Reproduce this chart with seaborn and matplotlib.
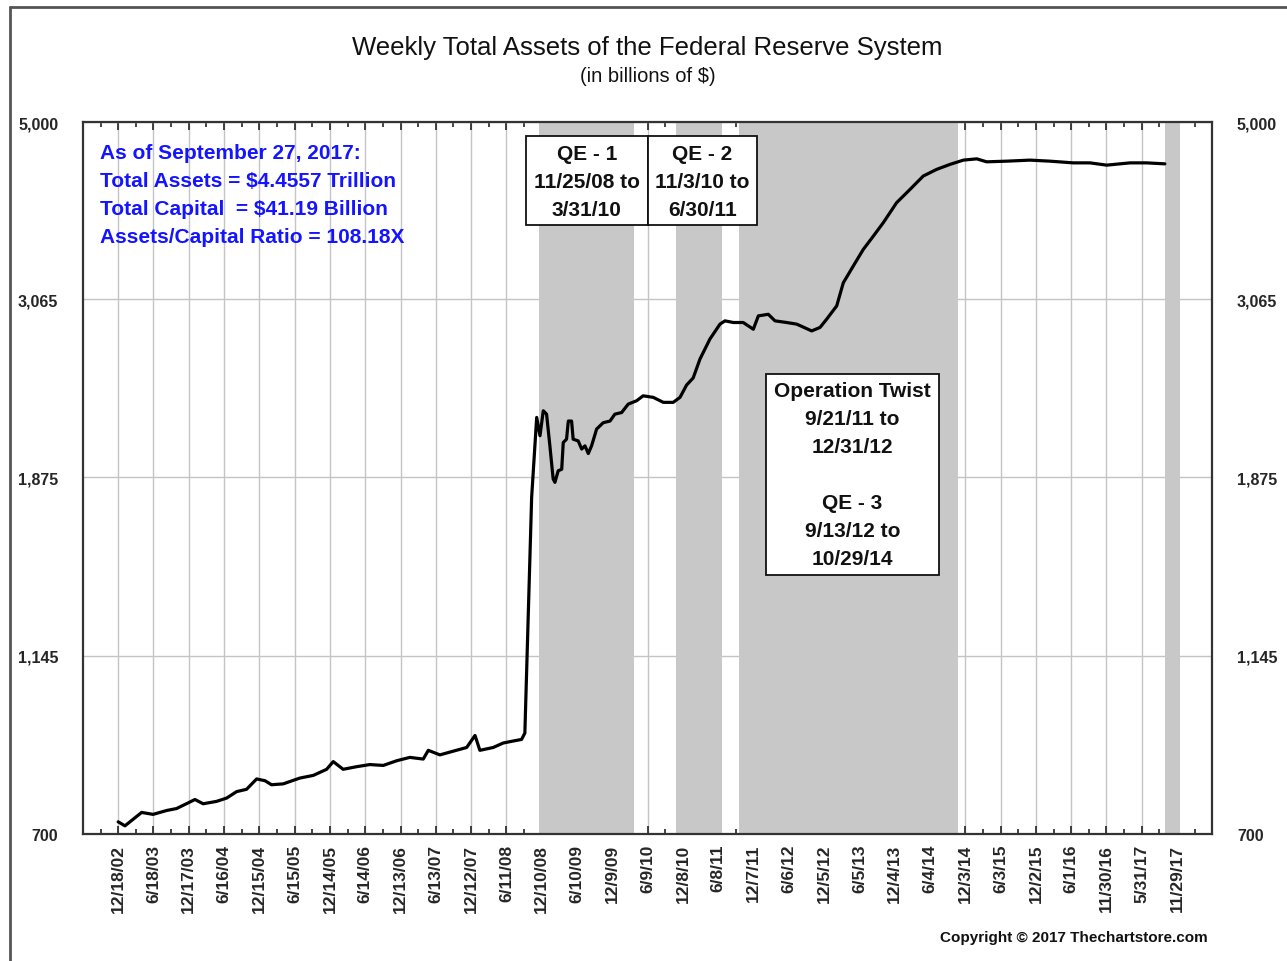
import numpy as np
import pandas as pd
import seaborn as sns
import matplotlib.pyplot as plt
import matplotlib.dates as mdates
from matplotlib.patches import Rectangle
from matplotlib.lines import Line2D
from matplotlib.ticker import FixedLocator, NullLocator

# weekly total assets (billions $)
dates = ["2002-12-18", "2003-01-22", "2003-04-18", "2003-06-16", "2003-08-25", "2003-10-15",
         "2004-01-18", "2004-02-29", "2004-05-08", "2004-06-29", "2004-08-20", "2004-10-10",
         "2004-12-01", "2005-01-13", "2005-02-16", "2005-04-17", "2005-07-12", "2005-09-19",
         "2005-11-27", "2005-12-31", "2006-02-20", "2006-04-30", "2006-07-08", "2006-09-15",
         "2006-11-23", "2007-01-30", "2007-04-09", "2007-05-05", "2007-07-04", "2007-09-11",
         "2007-11-19", "2008-01-01", "2008-01-26", "2008-04-04", "2008-05-25", "2008-07-16",
         "2008-08-28", "2008-09-14", "2008-10-19", "2008-11-14", "2008-12-01", "2008-12-18",
         "2009-01-04", "2009-01-21", "2009-02-07", "2009-02-16", "2009-03-05", "2009-03-23",
         "2009-03-31", "2009-04-17", "2009-04-26", "2009-05-13", "2009-05-21", "2009-06-16",
         "2009-07-04", "2009-07-21", "2009-08-07", "2009-08-24", "2009-09-19", "2009-10-23",
         "2009-11-27", "2009-12-22", "2010-01-26", "2010-03-01", "2010-04-13", "2010-05-17",
         "2010-07-08", "2010-08-29", "2010-10-19", "2010-11-23", "2010-12-27", "2011-01-30",
         "2011-03-06", "2011-04-26", "2011-06-17", "2011-07-13", "2011-08-25", "2011-10-15",
         "2011-12-06", "2012-01-01", "2012-02-21", "2012-03-27", "2012-05-26", "2012-07-17",
         "2012-10-02", "2012-11-14", "2012-12-18", "2013-02-08", "2013-03-14", "2013-05-04",
         "2013-06-25", "2013-08-16", "2013-10-06", "2013-12-14", "2014-02-21", "2014-04-30",
         "2014-07-08", "2014-09-15", "2014-11-23", "2015-01-31", "2015-03-23", "2015-07-04",
         "2015-11-02", "2016-02-13", "2016-06-12", "2016-09-06", "2016-12-01", "2017-03-31",
         "2017-06-25", "2017-09-27"]
assets = [724, 716, 743, 739, 747, 751,
          770, 761, 766, 773, 787, 792,
          815, 811, 802, 804, 817, 823,
          837, 855, 837, 843, 848, 846,
          857, 865, 861, 882, 871, 880,
          889, 919, 882, 889, 900, 905,
          909, 925, 1774, 2212, 2103, 2253,
          2232, 2045, 1866, 1849, 1909, 1917,
          2064, 2083, 2190, 2190, 2083, 2073,
          2027, 2045, 2002, 2045, 2142, 2180,
          2190, 2232, 2242, 2295, 2316, 2348,
          2338, 2306, 2306, 2338, 2419, 2467,
          2599, 2746, 2862, 2888, 2875, 2875,
          2822, 2928, 2941, 2888, 2875, 2862,
          2809, 2836, 2901, 3010, 3208, 3359,
          3518, 3650, 3787, 4003, 4152, 4308,
          4388, 4449, 4502, 4518, 4481, 4489,
          4502, 4489, 4468, 4468, 4440, 4468,
          4468, 4456]

# shaded program periods
span_start = ["2008-11-25", "2010-11-03", "2011-09-21", "2017-09-28"]
span_end = ["2010-03-31", "2011-06-30", "2014-10-29", "2017-12-14"]

x_labels = ["12/18/02", "6/18/03", "12/17/03", "6/16/04", "12/15/04", "6/15/05", "12/14/05",
            "6/14/06", "12/13/06", "6/13/07", "12/12/07", "6/11/08", "12/10/08", "6/10/09",
            "12/9/09", "6/9/10", "12/8/10", "6/8/11", "12/7/11", "6/6/12", "12/5/12", "6/5/13",
            "12/4/13", "6/4/14", "12/3/14", "6/3/15", "12/2/15", "6/1/16", "11/30/16",
            "5/31/17", "11/29/17"]
y_ticks = [700, 1145, 1875, 3065, 5000]
y_labels = ["700", "1,145", "1,875", "3,065", "5,000"]

info_lines = ["As of September 27, 2017:", "Total Assets = $4.4557 Trillion",
              "Total Capital  = $41.19 Billion", "Assets/Capital Ratio = 108.18X"]
qe1_lines = ["QE - 1", "11/25/08 to", "3/31/10"]
qe2_lines = ["QE - 2", "11/3/10 to", "6/30/11"]
twist_lines = ["Operation Twist", "9/21/11 to", "12/31/12", "", "QE - 3", "9/13/12 to", "10/29/14"]

df = pd.DataFrame({"date": pd.to_datetime(dates), "assets": assets})

sns.set_theme(style="white")
plt.rcParams['font.family'] = ['Liberation Sans', 'DejaVu Sans']

fig = plt.figure(figsize=(12.87, 9.62), dpi=100)
ax = fig.add_axes([0.0647, 0.132, 0.877, 0.740])

ax.set_axisbelow(True)
for s, e in zip(span_start, span_end):
    ax.axvspan(pd.Timestamp(s), pd.Timestamp(e), color='#c8c8c8', lw=0, zorder=1)

sns.lineplot(data=df, x='date', y='assets', color='black', linewidth=2.3, estimator=None, ax=ax, zorder=3)
ax.set(xlabel=None, ylabel=None)

ax.set_yscale('log')
ax.set_ylim(700, 5000)
ax.set_xlim(pd.Timestamp('2002-06-21'), pd.Timestamp('2018-05-28'))

tick_pos = mdates.date2num(pd.to_datetime(x_labels, format='%m/%d/%y'))
step = tick_pos[1] - tick_pos[0]
minor_pos = np.concatenate([[tick_pos[0] - step / 2], tick_pos + step / 2])
ax.xaxis.set_major_locator(FixedLocator(tick_pos))
ax.xaxis.set_minor_locator(FixedLocator(minor_pos))
ax.set_xticklabels(x_labels, rotation=90, fontweight='bold', fontsize=12.5)
ax.tick_params(axis='x', which='major', direction='in', length=6, width=1.2, color='#222222',
               top=True, bottom=True, pad=7)
ax.tick_params(axis='x', which='minor', direction='in', length=3.5, width=1.2, color='#222222',
               top=True, bottom=True)

ax.yaxis.set_major_locator(FixedLocator(y_ticks))
ax.yaxis.set_minor_locator(NullLocator())
ax.set_yticklabels(y_labels)
ax.tick_params(axis='y', which='both', left=False, right=False, labelleft=True, labelright=True, pad=12)
for t in ax.yaxis.get_major_ticks():
    for lab in (t.label1, t.label2):
        lab.set_fontweight('bold')
        lab.set_fontsize(11.5)

ax.grid(True, axis='both', color='#c4c4c4', linewidth=1)
for sp in ax.spines.values():
    sp.set_color('#333333')
    sp.set_linewidth(1.6)

# info text
for i, line in enumerate(info_lines):
    ax.text(0.0148, 0.958 - i * 0.0394, line, transform=ax.transAxes, color='#1414ff',
            fontsize=15, fontweight='bold', ha='left', va='center', zorder=5)

# QE boxes
for x0, x1 in [(0.3922, 0.5003), (0.5003, 0.5969)]:
    ax.add_patch(Rectangle((x0, 0.8553), x1 - x0, 0.9803 - 0.8553, transform=ax.transAxes,
                           facecolor='white', edgecolor='#111111', lw=1.3, zorder=4))
for cx, lines in [(0.4462, qe1_lines), (0.5486, qe2_lines)]:
    for i, line in enumerate(lines):
        ax.text(cx, 0.9565 - i * 0.0394, line, transform=ax.transAxes, fontsize=15,
                fontweight='bold', ha='center', va='center', color='#111111', zorder=5)

ax.add_patch(Rectangle((0.6049, 0.3638), 0.7581 - 0.6049, 0.6461 - 0.3638, transform=ax.transAxes,
                       facecolor='white', edgecolor='#111111', lw=1.3, zorder=4))
for i, line in enumerate(twist_lines):
    ax.text(0.6815, 0.6236 - i * 0.0394, line, transform=ax.transAxes, fontsize=15,
            fontweight='bold', ha='center', va='center', color='#111111', zorder=5)

fig.text(0.5033, 0.950, 'Weekly Total Assets of the Federal Reserve System', ha='center', va='center',
         fontsize=18.5, color='#111111')
fig.text(0.5033, 0.920, '(in billions of $)', ha='center', va='center', fontsize=14.5, color='#111111')
fig.text(0.9386, 0.025, 'Copyright © 2017 Thechartstore.com', ha='right', va='center',
         fontsize=11, fontweight='bold', color='#111111')

# outer frame (left and top edges)
fig.add_artist(Line2D([0.0078, 0.0078], [0, 0.9917], transform=fig.transFigure, color='#555555', lw=2))
fig.add_artist(Line2D([0.0078, 1.0], [0.9917, 0.9917], transform=fig.transFigure, color='#555555', lw=2))

plt.savefig('out.png', dpi=100)
